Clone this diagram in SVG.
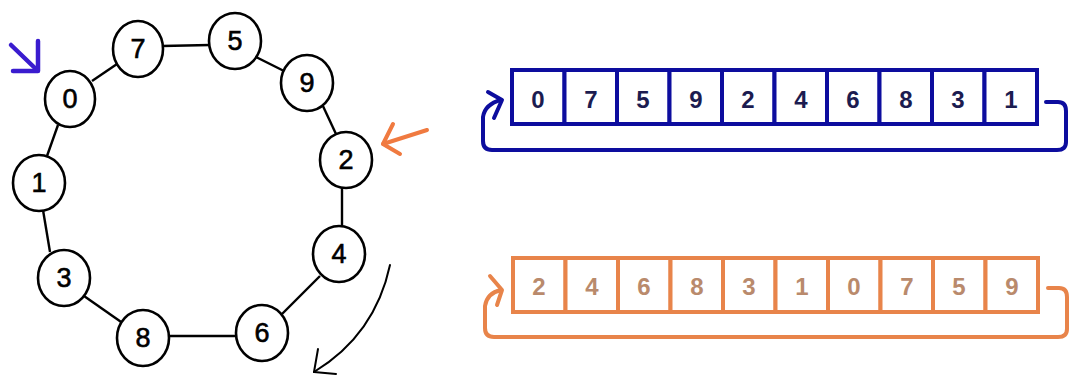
<svg xmlns="http://www.w3.org/2000/svg" width="1072" height="376" viewBox="0 0 1072 376">
<style>
.node ellipse{fill:#fff;stroke:#000;stroke-width:2.6}
.node text{font-family:"Liberation Sans",Arial,sans-serif;font-size:27px;fill:#000;stroke:#000;stroke-width:0.6;text-anchor:middle;dominant-baseline:central}
.edge{stroke:#000;stroke-width:2.4;fill:none}
.bcell{fill:#fff;stroke:#0d0d9e;stroke-width:4}
.ocell{fill:#fff;stroke:#e8844a;stroke-width:4}
.btxt{font-family:"Liberation Sans",Arial,sans-serif;font-size:24px;font-weight:bold;fill:#1c1c50;text-anchor:middle;dominant-baseline:central}
.otxt{font-family:"Liberation Sans",Arial,sans-serif;font-size:24px;font-weight:bold;fill:#b98a6c;text-anchor:middle;dominant-baseline:central}
.bloop{fill:none;stroke:#0d0d9e;stroke-width:4;stroke-linejoin:round;stroke-linecap:round}
.oloop{fill:none;stroke:#e8844a;stroke-width:4;stroke-linejoin:round;stroke-linecap:round}
</style>
<rect width="1072" height="376" fill="#fff"/>
<g id="connectors">
<line class="edge" x1="92" y1="81" x2="117" y2="64"/>
<line class="edge" x1="162" y1="46" x2="210" y2="45"/>
<line class="edge" x1="256" y1="57" x2="284" y2="71"/>
<line class="edge" x1="322" y1="104" x2="336" y2="134"/>
<line class="edge" x1="342" y1="186" x2="342" y2="227"/>
<line class="edge" x1="320" y1="276" x2="282" y2="314"/>
<line class="edge" x1="236" y1="336" x2="169" y2="336"/>
<line class="edge" x1="124" y1="324" x2="84" y2="296"/>
<line class="edge" x1="50" y1="252" x2="43" y2="210"/>
<line class="edge" x1="47" y1="156" x2="58" y2="125"/>
</g>
<g id="node-0" class="node"><ellipse cx="70" cy="99" rx="25" ry="28"/><text x="70" y="99">0</text></g>
<g id="node-7" class="node"><ellipse cx="138" cy="49" rx="25" ry="28"/><text x="138" y="49">7</text></g>
<g id="node-5" class="node"><ellipse cx="235" cy="41" rx="26" ry="28"/><text x="235" y="41">5</text></g>
<g id="node-9" class="node"><ellipse cx="307" cy="83" rx="26" ry="28"/><text x="307" y="83">9</text></g>
<g id="node-2" class="node"><ellipse cx="346" cy="160" rx="26" ry="28"/><text x="346" y="160">2</text></g>
<g id="node-4" class="node"><ellipse cx="339" cy="254" rx="26" ry="28"/><text x="339" y="254">4</text></g>
<g id="node-6" class="node"><ellipse cx="262" cy="333" rx="26" ry="28"/><text x="262" y="333">6</text></g>
<g id="node-8" class="node"><ellipse cx="143" cy="338" rx="26" ry="28"/><text x="143" y="338">8</text></g>
<g id="node-3" class="node"><ellipse cx="64" cy="278" rx="26" ry="28"/><text x="64" y="278">3</text></g>
<g id="node-1" class="node"><ellipse cx="39" cy="183" rx="26" ry="28"/><text x="39" y="183">1</text></g>
<g id="pointer-blue" fill="none" stroke="#3a1ccf" stroke-width="4.5" stroke-linecap="round" stroke-linejoin="round">
<line x1="11" y1="45" x2="37" y2="70"/>
<polyline points="38,41 38,71 13,71"/>
</g>
<g id="pointer-orange" fill="none" stroke="#f07a40" stroke-width="4" stroke-linecap="round" stroke-linejoin="round">
<line x1="427" y1="130" x2="383" y2="144"/>
<polyline points="393,124 383,144 400,154"/>
</g>
<g id="rotate-arrow" fill="none" stroke="#000" stroke-width="2" stroke-linecap="round">
<path d="M390,265 Q375,335 314,372"/>
<line x1="314" y1="372" x2="318" y2="349"/>
<line x1="314" y1="372" x2="336" y2="374"/>
</g>
<g id="array-blue">
<rect class="bcell" x="512" y="70" width="52.5" height="54"/>
<rect class="bcell" x="564.5" y="70" width="52.5" height="54"/>
<rect class="bcell" x="617" y="70" width="52.5" height="54"/>
<rect class="bcell" x="669.5" y="70" width="52.5" height="54"/>
<rect class="bcell" x="722" y="70" width="52.5" height="54"/>
<rect class="bcell" x="774.5" y="70" width="52.5" height="54"/>
<rect class="bcell" x="827" y="70" width="52.5" height="54"/>
<rect class="bcell" x="879.5" y="70" width="52.5" height="54"/>
<rect class="bcell" x="932" y="70" width="52.5" height="54"/>
<rect class="bcell" x="984.5" y="70" width="52.5" height="54"/>
<text class="btxt" x="538" y="99">0</text>
<text class="btxt" x="591" y="99">7</text>
<text class="btxt" x="643" y="99">5</text>
<text class="btxt" x="696" y="99">9</text>
<text class="btxt" x="748" y="99">2</text>
<text class="btxt" x="801" y="99">4</text>
<text class="btxt" x="853" y="99">6</text>
<text class="btxt" x="906" y="99">8</text>
<text class="btxt" x="958" y="99">3</text>
<text class="btxt" x="1011" y="99">1</text>
<path class="bloop" d="M1046,102 L1058,102 Q1066,102 1066,111 L1066,142 Q1066,150 1057,150 L492,150 Q483,150 483,141 L483,117 Q485,104 501,100"/>
<polyline class="bloop" points="488,92 502,100 494,118"/>
</g>
<g id="array-orange">
<rect class="ocell" x="513" y="258" width="52.5" height="54"/>
<rect class="ocell" x="565.5" y="258" width="52.5" height="54"/>
<rect class="ocell" x="618" y="258" width="52.5" height="54"/>
<rect class="ocell" x="670.5" y="258" width="52.5" height="54"/>
<rect class="ocell" x="723" y="258" width="52.5" height="54"/>
<rect class="ocell" x="775.5" y="258" width="52.5" height="54"/>
<rect class="ocell" x="828" y="258" width="52.5" height="54"/>
<rect class="ocell" x="880.5" y="258" width="52.5" height="54"/>
<rect class="ocell" x="933" y="258" width="52.5" height="54"/>
<rect class="ocell" x="985.5" y="258" width="52.5" height="54"/>
<text class="otxt" x="539" y="286">2</text>
<text class="otxt" x="592" y="286">4</text>
<text class="otxt" x="644" y="286">6</text>
<text class="otxt" x="697" y="286">8</text>
<text class="otxt" x="749" y="286">3</text>
<text class="otxt" x="802" y="286">1</text>
<text class="otxt" x="854" y="286">0</text>
<text class="otxt" x="907" y="286">7</text>
<text class="otxt" x="959" y="286">5</text>
<text class="otxt" x="1012" y="286">9</text>
<path class="oloop" d="M1048,288 L1059,288 Q1067,288 1067,297 L1067,329 Q1067,337 1058,337 L494,337 Q485,337 485,328 L485,306 Q487,293 501,290"/>
<polyline class="oloop" points="490,276 502,290 497,305"/>
</g>
</svg>
